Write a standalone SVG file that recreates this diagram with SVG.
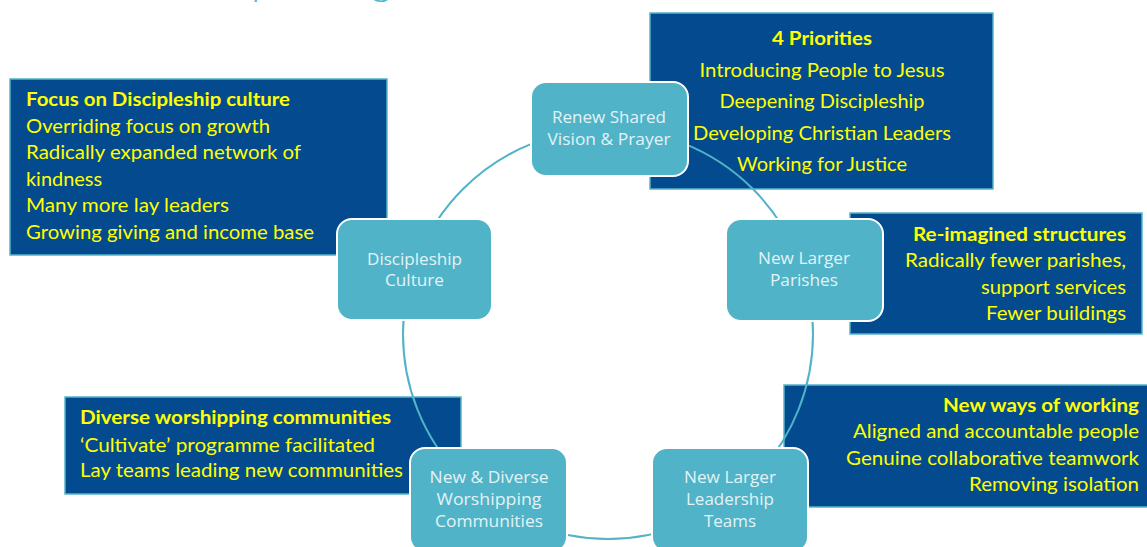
<svg xmlns="http://www.w3.org/2000/svg" width="1147" height="547" viewBox="0 0 1147 547">
<style>
.box{fill:#034a8f;stroke:#56b4c9;stroke-width:1.5}
.node rect{fill:#50b3c7;stroke:#ffffff;stroke-width:2}
.nt{font-family:"Open Sans","Lato",sans-serif;font-weight:400;font-size:16.5px;fill:#e2f3f7;text-anchor:middle}
.ct{font-family:"Lato","Open Sans",sans-serif;font-size:19px;fill:#ffff00}
.b{font-weight:bold}
.conn{fill:none;stroke:#50b3c7;stroke-width:2}
.title{font-family:"Lato","Open Sans",sans-serif;font-weight:300;font-size:44px;fill:#50b8d2}
</style>
<text class="title" x="251" y="-6">p</text>
<text class="title" x="370" y="-6">g</text>

<g id="callout-priorities">
<rect class="box" x="650" y="13" width="343" height="176"/>
<g class="ct" text-anchor="middle">
<text class="b" x="822" y="45" textLength="100" lengthAdjust="spacingAndGlyphs">4 Priorities</text>
<text x="822" y="77" textLength="245" lengthAdjust="spacingAndGlyphs">Introducing People to Jesus</text>
<text x="822" y="108" textLength="205" lengthAdjust="spacingAndGlyphs">Deepening Discipleship</text>
<text x="822" y="140" textLength="258" lengthAdjust="spacingAndGlyphs">Developing Christian Leaders</text>
<text x="822" y="171" textLength="170" lengthAdjust="spacingAndGlyphs">Working for Justice</text>
</g>
</g>

<g id="callout-focus">
<rect class="box" x="10" y="79" width="377" height="176"/>
<g class="ct">
<text class="b" x="26" y="106" textLength="264" lengthAdjust="spacingAndGlyphs">Focus on Discipleship culture</text>
<text x="26" y="133" textLength="244" lengthAdjust="spacingAndGlyphs">Overriding focus on growth</text>
<text x="26" y="159" textLength="275" lengthAdjust="spacingAndGlyphs">Radically expanded network of</text>
<text x="26" y="186" textLength="76" lengthAdjust="spacingAndGlyphs">kindness</text>
<text x="26" y="212" textLength="203" lengthAdjust="spacingAndGlyphs">Many more lay leaders</text>
<text x="26" y="239" textLength="288" lengthAdjust="spacingAndGlyphs">Growing giving and income base</text>
</g>
</g>

<g id="callout-structures">
<rect class="box" x="850" y="213" width="292" height="121"/>
<g class="ct" text-anchor="end">
<text class="b" x="1126" y="241" textLength="213" lengthAdjust="spacingAndGlyphs">Re-imagined structures</text>
<text x="1126" y="267" textLength="221" lengthAdjust="spacingAndGlyphs">Radically fewer parishes,</text>
<text x="1126" y="294" textLength="145" lengthAdjust="spacingAndGlyphs">support services</text>
<text x="1126" y="320" textLength="140" lengthAdjust="spacingAndGlyphs">Fewer buildings</text>
</g>
</g>

<g id="callout-working">
<rect class="box" x="784" y="385" width="370" height="122"/>
<g class="ct" text-anchor="end">
<text class="b" x="1139" y="412" textLength="196" lengthAdjust="spacingAndGlyphs">New ways of working</text>
<text x="1139" y="438" textLength="286" lengthAdjust="spacingAndGlyphs">Aligned and accountable people</text>
<text x="1139" y="465" textLength="293" lengthAdjust="spacingAndGlyphs">Genuine collaborative teamwork</text>
<text x="1139" y="491" textLength="170" lengthAdjust="spacingAndGlyphs">Removing isolation</text>
</g>
</g>

<g id="callout-worship">
<rect class="box" x="65" y="397" width="396" height="97"/>
<g class="ct">
<text class="b" x="80" y="424" textLength="311" lengthAdjust="spacingAndGlyphs">Diverse worshipping communities</text>
<text x="80" y="452" textLength="295" lengthAdjust="spacingAndGlyphs">‘Cultivate’ programme facilitated</text>
<text x="80" y="477" textLength="323" lengthAdjust="spacingAndGlyphs">Lay teams leading new communities</text>
</g>
</g>

<g id="connectors">
<circle class="conn" cx="608" cy="334" r="205"/>
</g>

<g id="node-vision" class="node">
<rect x="531" y="82" width="157" height="94" rx="15"/>
<text class="nt" x="609" y="123" textLength="114" lengthAdjust="spacingAndGlyphs">Renew Shared</text>
<text class="nt" x="609" y="145" textLength="123" lengthAdjust="spacingAndGlyphs">Vision &amp; Prayer</text>
</g>

<g id="node-parishes" class="node">
<rect x="726" y="219" width="157" height="102" rx="15"/>
<text class="nt" x="804" y="264" textLength="92" lengthAdjust="spacingAndGlyphs">New Larger</text>
<text class="nt" x="804" y="286" textLength="68" lengthAdjust="spacingAndGlyphs">Parishes</text>
</g>

<g id="node-discipleship" class="node">
<rect x="337" y="219" width="155" height="101" rx="15"/>
<text class="nt" x="414.5" y="265" textLength="95" lengthAdjust="spacingAndGlyphs">Discipleship</text>
<text class="nt" x="414.5" y="286" textLength="59" lengthAdjust="spacingAndGlyphs">Culture</text>
</g>

<g id="node-worship" class="node">
<rect x="410" y="448" width="157" height="104" rx="15"/>
<text class="nt" x="489" y="483" textLength="119" lengthAdjust="spacingAndGlyphs">New &amp; Diverse</text>
<text class="nt" x="489" y="505" textLength="105" lengthAdjust="spacingAndGlyphs">Worshipping</text>
<text class="nt" x="489" y="527" textLength="108" lengthAdjust="spacingAndGlyphs">Communities</text>
</g>

<g id="node-leadership" class="node">
<rect x="652" y="448" width="156" height="104" rx="15"/>
<text class="nt" x="730" y="483" textLength="92" lengthAdjust="spacingAndGlyphs">New Larger</text>
<text class="nt" x="730" y="505" textLength="88" lengthAdjust="spacingAndGlyphs">Leadership</text>
<text class="nt" x="730" y="527" textLength="52" lengthAdjust="spacingAndGlyphs">Teams</text>
</g>
</svg>
